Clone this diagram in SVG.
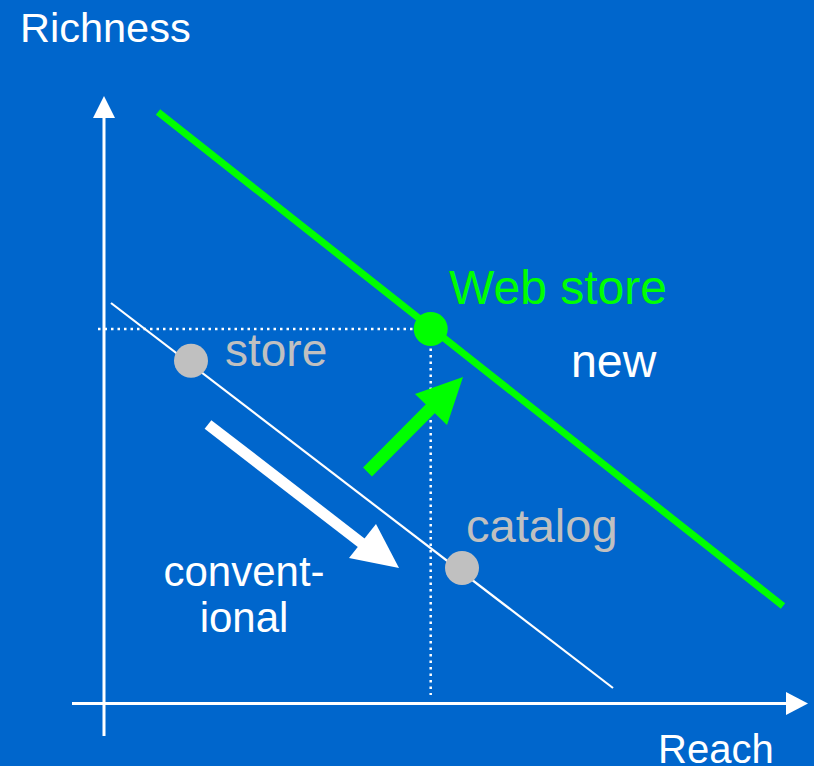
<svg xmlns="http://www.w3.org/2000/svg" width="814" height="766" viewBox="0 0 814 766">
<style>
text{font-family:"Liberation Sans",Arial,sans-serif}
.w{fill:#ffffff}
.g{fill:#c0c0c0}
.gr{fill:#00ff00}
.dot{stroke:#ffffff;stroke-width:2.5;stroke-dasharray:2.5 4;fill:none}
</style>
<rect width="814" height="766" fill="#0066cc"/>
<g id="axes">
<line x1="104" y1="736" x2="104" y2="114" stroke="#fff" stroke-width="3"/>
<polygon points="104,96 115,118 93,118" fill="#fff"/>
<line x1="72" y1="703.5" x2="790" y2="703.5" stroke="#fff" stroke-width="3"/>
<polygon points="808,703.5 786,692 786,715" fill="#fff"/>
<text x="20" y="42" font-size="41.5" class="w">Richness</text>
<text x="658" y="763" font-size="40" class="w">Reach</text>
</g>
<g id="connectors">
<line x1="158" y1="112" x2="783" y2="606" stroke="#00ff00" stroke-width="7"/>
<line x1="111" y1="303" x2="613" y2="688" stroke="#fff" stroke-width="2.2"/>
<line x1="98" y1="329" x2="416" y2="329" class="dot"/>
<line x1="430.7" y1="342" x2="430.7" y2="695" class="dot"/>
<g id="arrow-new">
<line x1="367.5" y1="472" x2="437" y2="402" stroke="#00ff00" stroke-width="12.5"/>
<polygon points="463,377 447,425 415,394" fill="#00ff00"/>
</g>
<g id="arrow-conventional">
<line x1="208" y1="424.5" x2="368" y2="548" stroke="#fff" stroke-width="11"/>
<polygon points="399,568 376,524 349,558" fill="#fff"/>
</g>
</g>
<g id="web-store">
<circle cx="430.7" cy="329" r="17" fill="#00ff00"/>
<text x="449" y="304" font-size="48" class="gr">Web store</text>
</g>
<g id="store">
<circle cx="191" cy="360.7" r="17" fill="#c0c0c0"/>
<text x="225" y="366" font-size="46" class="g">store</text>
</g>
<g id="catalog">
<circle cx="462" cy="568" r="17" fill="#c0c0c0"/>
<text x="466" y="542" font-size="47" class="g">catalog</text>
</g>
<g id="new">
<text x="571" y="377" font-size="46.5" class="w">new</text>
</g>
<g id="conventional">
<text x="244" y="586" font-size="42" class="w" text-anchor="middle">convent-</text>
<text x="244" y="632" font-size="42" class="w" text-anchor="middle">ional</text>
</g>
</svg>
